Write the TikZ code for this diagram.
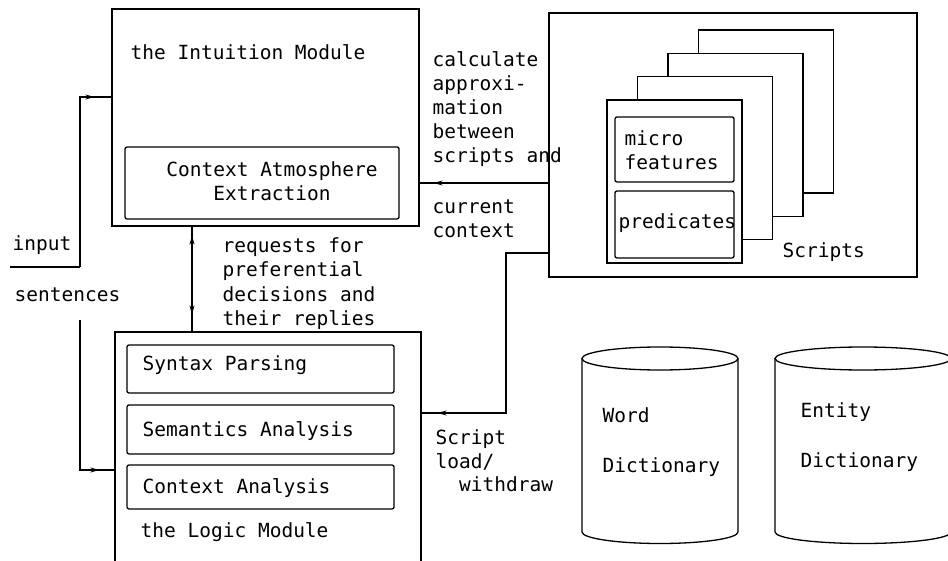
\documentclass[tikz,border=0pt]{standalone}
\usepackage{fontspec}
\setmainfont{DejaVu Sans Mono}
\usetikzlibrary{arrows.meta,decorations.markings}

\begin{document}
\begin{tikzpicture}[x=1pt,y=-1pt,line width=1.3pt,
    box/.style={draw,inner sep=0pt},
    lbl/.style={anchor=west,inner sep=0pt,align=left,font=\fontsize{19.5}{24}\selectfont},
    tipat/.style={postaction={decorate},decoration={markings,
        mark=at position #1 with {\arrow{Stealth[length=9pt,width=5pt]}}}},
    bothtips/.style={postaction={decorate},decoration={markings,
        mark=at position 9pt with {\arrowreversed{Stealth[length=9pt,width=5pt]}},
        mark=at position -17pt with {\arrow{Stealth[length=9pt,width=5pt]}}}}]
  \useasboundingbox (0,0) rectangle (948,561);
  \clip (0,0) rectangle (948,561);

  % the intuition module
  \node[box,minimum width=307pt,minimum height=217pt] (intu) at (265.5,117.5) {};
  \node[lbl] (intulbl) at (130,52) {the Intuition Module};
  \node[box,rounded corners=2pt,minimum width=274pt,minimum height=72pt] (cae) at (262,183) {};
  \node[lbl,anchor=center,align=center] (caelbl) at (272,181) {Context Atmosphere\\Extraction};

  % the logic module
  \node[box,minimum width=306pt,minimum height=258pt] (logic) at (268,461) {};
  \node[box,rounded corners=2pt,minimum width=267pt,minimum height=48pt] (syn) at (260.5,369) {};
  \node[box,rounded corners=2pt,minimum width=267pt,minimum height=49pt] (sem) at (260.5,429.5) {};
  \node[box,rounded corners=2pt,minimum width=267pt,minimum height=44pt] (ctx) at (260.5,487) {};
  \node[lbl] (synlbl) at (142,365) {Syntax Parsing};
  \node[lbl] (semlbl) at (142,431) {Semantics Analysis};
  \node[lbl] (ctxlbl) at (142,488) {Context Analysis};
  \node[lbl] (logiclbl) at (140,532) {the Logic Module};

  % scripts
  \node[box,minimum width=368pt,minimum height=264pt] (scr) at (733,145) {};
  \foreach \i in {3,2,1,0}
    \node[box,fill=white,minimum width=135pt,minimum height=163pt] (sheet\i) at (674.5+30.5*\i,181.5-23.3*\i) {};
  \node[box,rounded corners=2pt,minimum width=119pt,minimum height=65pt] (mf) at (674.5,149.5) {};
  \node[box,rounded corners=2pt,minimum width=119pt,minimum height=67pt] (pred) at (674.5,224.5) {};
  \node[lbl] (mflbl) at (624,150.5) {micro\\features};
  \node[lbl] (predlbl) at (618,223) {predicates};
  \node[lbl] (scrlbl) at (782,252) {Scripts};

  % dictionaries
  \foreach \cx/\r in {660/78,863/88} {
    \draw (\cx-\r,358.5) -- (\cx-\r,532) arc[start angle=180,end angle=0,x radius=\r,y radius=11.5] -- (\cx+\r,358.5);
    \draw (\cx,358.5) ellipse[x radius=\r,y radius=11.5];
  }
  \node[lbl,align=left,font=\fontsize{19.5}{50}\selectfont] (wordlbl) at (602,442) {Word\\Dictionary};
  \node[lbl,align=left,font=\fontsize{19.5}{50}\selectfont] (entlbl) at (800,437) {Entity\\Dictionary};

  % input sentences
  \coordinate (inp) at (10,267);
  \coordinate (jin) at (80,267);
  \coordinate (jsen) at (80,320);
  \node[lbl] (inlbl) at (12,245) {input};
  \node[lbl] (senlbl) at (14,295) {sentences};
  \draw (inp) -- (jin);
  \draw[tipat=-17pt] (jin) |- (intu.west |- 0,97);
  \draw[tipat=-15pt] (jsen) |- (logic.west |- 0,470);

  % requests and replies
  \draw[bothtips] (intu.south -| 192,0) -- (logic.north -| 192,0);
  \node[lbl,font=\fontsize{19.5}{24.5}\selectfont] (reqlbl) at (222,283.5)
    {requests for\\preferential\\decisions and\\their replies};

  % current context
  \draw[tipat=-14pt] (scr.west |- 0,183) -- (intu.east |- 0,183);
  \node[lbl] (calclbl) at (432,109) {calculate\\approxi-\\mation\\between\\scripts and};
  \node[lbl] (curlbl) at (432,218.5) {current\\context};

  % script load
  \draw[tipat=-16pt] (scr.west |- 0,253) -| (506,413) -- (logic.east |- 0,413);
  \node[lbl,font=\fontsize{19.5}{23.5}\selectfont] (loadlbl) at (435,461) {Script\\load/\\\phantom{lo}withdraw};
\end{tikzpicture}
\end{document}
